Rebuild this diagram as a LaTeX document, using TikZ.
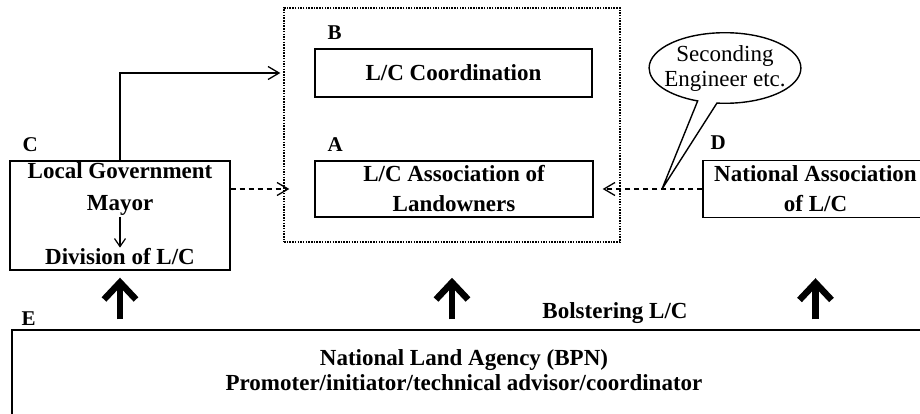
\documentclass[tikz,border=0pt]{standalone}
\usepackage{fontspec}
\setmainfont{Liberation Serif}
\usetikzlibrary{arrows.meta,positioning,shapes.callouts}

\begin{document}
\begin{tikzpicture}[x=1pt, y=-1pt,
        box/.style={rectangle, draw, line width=1.4pt, align=center, font=\bfseries\fontsize{23}{30}\selectfont},
        tag/.style={anchor=base west, inner sep=0pt, font=\bfseries\fontsize{21}{21}\selectfont},
        txt/.style={align=center, inner sep=1pt, font=\bfseries\fontsize{23}{30}\selectfont},
        link/.style={line width=1.3pt, -{Straight Barb[length=11pt,width=13pt]}},
        dlink/.style={link, dash pattern=on 5pt off 4pt},
        bolster/.style={line width=6.5pt, -{Straight Barb[length=17pt,width=32pt]}}]
        \useasboundingbox (0,0) rectangle (920,413);
        \clip (0,0) rectangle (920,413);

        % dotted frame round A and B
        \node(grp) [rectangle, draw, line width=1.5pt, dash pattern=on 1.5pt off 1.2pt, minimum width=336pt, minimum height=234pt] at (452,125) {};

        \node(B) [box, minimum width=277pt, minimum height=48pt] at (453.5,73) {L/C Coordination};
        \node(A) [box, minimum width=278pt, minimum height=56pt] at (454,189) {L/C Association of\\Landowners};
        \node(C) [box, minimum width=220pt, minimum height=109pt] at (120,215.5) {};
        \node(D) [box, minimum width=225pt, minimum height=57pt] at (815.5,189) {National Association\\of L/C};
        \node(E) [box, minimum width=918pt, minimum height=100pt] at (471,380) {};

        \node[tag] (tagB) at ([shift={(13,-9)}]B.north west) {B};
        \node[tag] (tagA) at ([shift={(13,-9)}]A.north west) {A};
        \node[tag] (tagC) at ([shift={(13,-9)}]C.north west) {C};
        \node[tag] (tagD) at ([shift={(8,-10)}]D.north west) {D};
        \node[tag] (tagE) at ([shift={(10,-4)}]E.north west) {E};

        % inside C
        \node[txt, font=\bfseries\fontsize{23}{32}\selectfont] (mayor) at (120,189) {Local Government\\Mayor};
        \node[txt] (div) at (120,257) {Division of L/C};
        \draw[line width=1.2pt, -{Straight Barb[length=8pt,width=11pt]}] (mayor) -- (div);

        % inside E
        \node[txt, font=\bfseries\fontsize{23}{25}\selectfont] (bpn) at (464,370) {National Land Agency (BPN)\\Promoter/initiator/technical advisor/coordinator};
        \node[txt] (bolst) at (615,313) {Bolstering L/C};

        % links to A and B
        \draw[link, shorten >=34pt] (C.north) |- (B.west);
        \draw[dlink, shorten >=25pt] (C.east |- A.west) -- (A.west);
        \draw[dlink, shorten >=9pt] (D.west) -- (A.east);

        \coordinate (tip) at (662,189);
        \node(sec) [ellipse callout, draw, line width=1.4pt, callout absolute pointer={(tip)}, inner xsep=-7pt, inner ysep=2pt, align=center, font=\fontsize{23}{25}\selectfont] at (725,68) {Seconding\\Engineer etc.};

        % support from E
        \draw[bolster, shorten <=10pt, shorten >=7pt] (E.north -| C.south) -- (C.south);
        \draw[bolster, shorten <=10pt, shorten >=35pt] (E.north -| grp.south) -- (grp.south);
        \draw[bolster, shorten <=10pt, shorten >=60pt] (E.north -| D.south) -- (D.south);
\end{tikzpicture}
\end{document}
